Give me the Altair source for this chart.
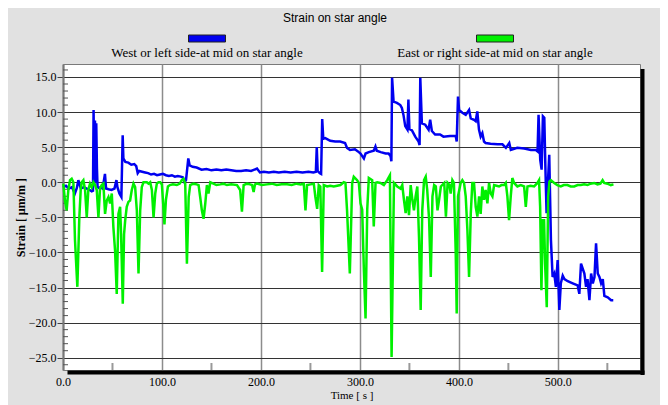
import altair as alt
import pandas as pd

W, H = 577, 306

# ---- data ----
west_t = [0, 3, 6, 9, 12, 14, 15.5, 18, 21, 24, 27, 29, 30.3, 30.9, 31.6, 32.3, 33.0, 33.6, 34.3, 34.9,
          36, 38, 40, 42.4, 43.5, 46, 49, 52, 54, 55, 57, 59, 60.3, 61, 63, 66, 69, 72, 74, 75.5,
          77, 80, 83, 86, 89, 92, 95, 98, 101, 104, 107, 110, 113, 116, 119, 121, 122.8, 124.3, 126.6, 128,
          131, 135, 140, 145, 150, 155, 160, 165, 170, 175, 180, 185, 190, 196, 199, 203, 208, 213, 218, 224,
          230, 236, 242, 248, 253, 255.5, 256.4, 257.3, 259.5, 260.8, 261.9, 263, 265, 270, 275, 280, 285, 287, 290, 295,
          298, 300.6, 304, 305.7, 309, 314, 315.7, 317, 321, 326, 329, 331, 331.8, 332.5, 334, 337.4, 340.8, 342.4, 344, 345.8,
          348, 349, 350, 352.6, 355.9, 359.3, 360.3, 361, 362.6, 366, 369.4, 371, 372.7, 376, 381, 384.4, 391, 396.8, 397.8, 399.1,
          400.2, 403.5, 406.9, 410.3, 412, 415.3, 417, 418.6, 420.3, 422, 423.7, 425.4, 427, 432, 439, 444, 447.5, 450.9, 452.5, 459,
          466, 472.8, 477.8, 479.5, 480.5, 482.2, 483.6, 484.9, 486.3, 487.3, 488.6, 489.6, 491.3, 492, 493, 494.7, 496.4, 498, 499.8, 501.5,
          503, 504.9, 506.6, 510, 515, 520, 521.7, 523.4, 526.8, 528.5, 530, 531.9, 533.6, 535.3, 537, 538.6, 540.3, 542, 543.7, 545.4,
          547, 550.4, 553.8, 556]
west_v = [-0.7, -0.5, -0.9, -0.7, -1.6, -0.8, 0.3, -0.9, -0.7, -0.9, -1.1, -1.3, -1.2, 10.3, -0.3, 8.8, 0.0, 8.4, 2.0, -0.6,
          -0.8, -0.7, -0.9, 1.2, -0.9, -1.0, -1.1, -0.9, 0.3, -0.7, -1.6, -2.1, 6.7, 3.4, 2.9, 2.8, 2.5, 2.6, 2.3, 1.3,
          1.6, 1.5, 1.4, 1.3, 1.1, 1.2, 1.0, 1.1, 1.2, 1.0, 0.9, 1.0, 0.8, 0.9, 0.8, 0.7, 0.0, 0.3, 3.4, 2.4,
          2.2, 2.1, 1.8, 1.9, 1.7, 1.8, 1.7, 1.8, 1.7, 1.6, 1.6, 1.7, 1.6, 1.95, 1.4, 1.5, 1.4, 1.5, 1.4, 1.5,
          1.4, 1.5, 1.4, 1.5, 1.4, 1.5, 5.0, 1.6, 1.3, 1.2, 9.0, 6.2, 6.3, 5.9, 5.8, 5.8, 5.6, 4.9, 4.6, 4.7,
          4.4, 4.1, 3.4, 4.1, 4.3, 4.5, 5.1, 4.5, 4.3, 4.1, 4.1, 3.7, 3.0, 14.9, 11.5, 11.3, 11.0, 10.6, 9.6, 8.0,
          7.5, 11.8, 7.6, 7.4, 6.5, 5.8, 5.3, 14.9, 8.4, 8.2, 7.5, 8.9, 7.3, 6.8, 6.8, 6.5, 6.6, 6.6, 5.8, 12.2,
          10.3, 9.9, 9.6, 10.3, 9.1, 8.9, 8.7, 10.1, 7.5, 6.5, 7.0, 5.8, 5.6, 5.5, 5.4, 5.4, 4.9, 5.6, 4.6, 4.9,
          4.8, 4.6, 4.6, 4.4, 9.6, 3.2, 1.8, 9.4, 9.2, 2.7, -4.4, -1.1, 3.9, -1.1, -8.2, -13.5, -13.0, -14.9, -11.1, -18.2,
          -14.4, -13.3, -13.8, -14.1, -14.4, -14.7, -15.9, -11.6, -13.0, -14.9, -13.8, -16.8, -13.0, -14.4, -13.5, -8.7, -13.0, -13.5, -14.4, -13.8,
          -16.2, -16.4, -16.8, -16.8]

east_t = [0.3, 2.0, 3.7, 5.4, 7.1, 8.8, 10.5, 12.1, 14.5, 16.5, 17.9, 18.9, 20.6, 22.3, 24.0, 25.6, 27.3, 29.0, 30.7, 32.4,
          34.1, 35.8, 37.4, 39.1, 40.8, 42.5, 44.2, 45.9, 47.6, 49.3, 50.9, 52.6, 54.3, 56.0, 57.7, 58.7, 60.4, 61.7, 62.8, 64.4,
          66.1, 67.8, 69.5, 71.2, 72.9, 74.6, 76.3, 78.0, 79.6, 81.3, 84.7, 86.4, 88.1, 89.8, 91.5, 93.2, 94.8, 96.5, 98.2, 99.9,
          101.2, 102.5, 104, 106, 108, 111, 115, 118, 120, 121.8, 123.5, 125.2, 127, 128.5, 131.9, 135, 137, 138.6, 140.3, 142,
          143.7, 145.4, 147, 148.8, 152, 155, 159, 162, 165.6, 170, 175.8, 179, 180.8, 182.5, 186, 189, 191, 192.6, 194, 196,
          201, 206, 211, 216, 221, 226.4, 231, 236, 240, 243.3, 245, 246.6, 250, 253.4, 255, 256.8, 258.4, 260, 261.8, 263.5,
          266.9, 270, 273.6, 277, 280.3, 283.7, 285.4, 287, 289.8, 292.2, 293.8, 297.2, 298.9, 300.6, 302.3, 304, 305.7, 307.4, 309, 312.4,
          314, 315.8, 317.5, 320.8, 324.2, 327.6, 330.3, 332, 334.4, 337.7, 341.1, 342.8, 344.5, 346.2, 347.9, 349.6, 351.3, 353, 354.6, 356.3,
          358, 359.7, 361.4, 363, 364.8, 366.5, 368, 369.9, 371.6, 373.3, 375, 376.7, 378.4, 380, 381.8, 385.2, 386.9, 388.6, 390.5, 391.7,
          393.4, 395, 396.8, 397.8, 399.1, 401.8, 403.5, 405.2, 406.9, 408.6, 410.3, 412, 413.6, 415.3, 417, 418.7, 420.4, 422, 423.7, 425.4,
          427, 428.8, 430.5, 432.2, 433.9, 435.6, 438, 440.6, 443, 445.7, 447.4, 449, 450.7, 452.4, 454, 455.8, 459.1, 462.5, 465.9, 467.6,
          469.3, 472.5, 476, 479.4, 481, 482.1, 483.4, 484.8, 486.1, 487.1, 488.8, 490.2, 491.5, 492.9, 496.3, 499.5, 503, 506, 509.7, 513,
          516.5, 520, 523.2, 526.5, 530, 533, 536.7, 540, 543, 545.2, 546.8, 550, 553.5, 556.2]
east_v = [-0.2, -2.6, -4.0, -1.1, 0.3, 0.5, 0.0, -8.2, -14.9, -5.0, -1.1, 0.0, 0.3, -1.1, -5.0, -1.1, -0.2, -0.7, 0.0, -0.4,
          -1.1, -5.0, -0.9, -0.4, -0.2, -4.5, -2.6, -2.1, -3.0, -1.6, -6.4, -9.7, -15.9, -4.5, -3.5, -7.4, -17.3, -7.4, -5.5, -3.5,
          -2.8, -2.6, -1.1, -0.2, -0.7, -4.0, -13.0, -4.0, -0.7, 0.0, 0.0, -0.2, 0.0, -1.1, -5.0, -1.6, -0.2, 0.0, 0.0, -0.3,
          -3.0, -6.0, -2.5, -0.6, -0.4, -0.3, -0.4, -0.2, 0.3, 0.5, -0.2, -11.6, -2.1, -0.4, -0.2, -0.3, -0.4, -2.1, -4.0, -5.2,
          -3.1, -0.4, -1.6, 0.0, -0.2, -0.4, -0.3, -0.2, -0.4, -0.3, -0.4, -1.1, -4.2, -0.4, -0.2, -0.3, -0.4, -1.4, -0.3, -0.2,
          -0.4, -0.3, -0.2, -0.4, -0.3, -0.3, -0.4, -0.2, -0.3, -0.2, -4.0, -0.4, -0.3, -0.2, -2.1, -3.8, -0.4, -0.6, -12.8, -0.4,
          -0.6, -0.5, -0.6, -0.5, -0.4, 0.0, -0.1, -4.0, -13.0, -0.1, 0.8, 0.3, -0.1, -3.0, -3.9, -12.5, -19.4, -3.9, 0.6, 0.3,
          -6.3, -0.1, 0.0, -0.1, -0.4, 0.3, 1.0, -24.9, -0.1, -0.6, -0.9, -0.4, -2.5, -4.4, -2.0, -4.7, -0.4, -2.5, -4.0, -2.0,
          -0.6, -7.8, -18.2, -4.0, 0.3, 0.8, -1.1, -5.3, -13.5, -2.0, -0.4, -0.6, -4.0, -2.5, -0.6, -0.1, -4.9, -0.1, -0.4, -1.6,
          0.3, -0.1, -10.0, -18.7, -2.0, -0.1, 0.3, -0.1, -2.0, -6.8, -13.5, -4.5, -0.1, -0.1, -3.5, -4.9, -2.0, -4.5, -0.6, -2.5,
          -1.1, -3.0, -0.1, -1.6, -2.0, -0.4, -0.5, -0.6, -0.4, -0.4, -0.1, -2.0, -5.4, -2.0, 0.6, -0.1, -0.6, -0.4, -0.6, -3.5,
          -0.6, -0.5, -0.6, -0.1, 0.3, -3.5, -15.4, -5.4, -5.4, -11.6, -17.8, -2.0, 0.1, 0.3, -0.1, -0.4, -0.6, -0.4, -0.4, -0.6,
          -0.6, -0.4, -0.4, -0.3, -0.4, -0.2, -0.1, -0.3, -0.2, 0.3, -0.1, -0.2, -0.4, -0.3]

x_tick_values = [0, 100, 200, 300, 400, 500]
x_minor_values = [50, 150, 250, 350, 450, 550]
y_tick_values = [-25, -20, -15, -10, -5, 0, 5, 10, 15]
y_minor_values = [-26, -24, -23, -22, -21, -19, -18, -17, -16, -14, -13, -12, -11, -9, -8, -7, -6,
                  -4, -3, -2, -1, 1, 2, 3, 4, 6, 7, 8, 9, 11, 12, 13, 14, 16]

chart_title = ["Strain on star angle"]
legend_labels = ["West or left side-at mid on star angle", "East or right side-at mid on star angle"]
legend_colors = ["#0000f0", "#00f000"]

serif = "Liberation Serif"

west_df = pd.DataFrame({"t": west_t, "v": west_v})
east_df = pd.DataFrame({"t": east_t, "v": east_v})
xminor_df = pd.DataFrame({"t": x_minor_values})
yminor_df = pd.DataFrame({"v": y_minor_values})

x_scale = alt.Scale(domain=[0, 583], nice=False, zero=False)
y_scale = alt.Scale(domain=[-26.75, 16.85], nice=False, zero=False)

x_axis = alt.Axis(values=x_tick_values, format=".1f", grid=True, gridColor="#8c8c8c", gridWidth=1.5,
                  ticks=False, tickSize=0, domain=False, labelFont=serif, labelFontSize=12,
                  labelColor="black", labelPadding=6, labelFlush=False, title="Time [ s ]", titleFont=serif,
                  titleFontSize=11, titleFontWeight="normal", titleColor="black", titlePadding=2)
y_axis = alt.Axis(values=y_tick_values, format=".1f", grid=True, gridColor="#333333", gridWidth=1,
                  ticks=True, tickSize=6, tickColor="#444444", tickWidth=1, domain=True,
                  domainColor="#777777", domainWidth=2, labelFont=serif, labelFontSize=12,
                  labelColor="black", labelPadding=1, labelFlush=False, title="Strain [ µm/m ]", titleFont=serif,
                  titleFontSize=12, titleFontWeight="bold", titleColor="black", titleX=-43,
                  titleY=153, titleAngle=270, titleAlign="center", titleBaseline="middle")

X = alt.X("t:Q", scale=x_scale, axis=x_axis)
Y = alt.Y("v:Q", scale=y_scale, axis=y_axis)

xminor = alt.Chart(xminor_df).mark_rule(color="#999999", strokeWidth=2).encode(
    x=X, y=alt.value(H), y2=alt.value(H - 7))
yminor = alt.Chart(yminor_df).mark_rule(color="#555555", strokeWidth=1).encode(
    y=Y, x=alt.value(0), x2=alt.value(5))

west = alt.Chart(west_df).mark_line(color=legend_colors[0], strokeWidth=2.5).encode(x=X, y=Y)
east = alt.Chart(east_df).mark_line(color=legend_colors[1], strokeWidth=2.5).encode(x=X, y=Y)

one = pd.DataFrame({"a": [0]})
shadow_r = alt.Chart(one).mark_rule(color="black", strokeWidth=4).encode(
    x=alt.value(W + 2.5), y=alt.value(5), y2=alt.value(H + 5))
shadow_b = alt.Chart(one).mark_rule(color="black", strokeWidth=4).encode(
    y=alt.value(H + 2.5), x=alt.value(4.5), x2=alt.value(W + 4.5))

title = alt.Chart(pd.DataFrame({"label": chart_title})).mark_text(
    font="Liberation Sans", fontSize=12, color="black", align="center", baseline="middle").encode(
    x=alt.value(272), y=alt.value(-46), text="label:N")

leg_layers = []
leg_x = [144, 432]
for i in range(2):
    leg_layers.append(alt.Chart(one).mark_rect(color=legend_colors[i], stroke="#222222", strokeWidth=1).encode(
        x=alt.value(leg_x[i] - 18.5), x2=alt.value(leg_x[i] + 18.5), y=alt.value(-29), y2=alt.value(-22)))
    leg_layers.append(alt.Chart(pd.DataFrame({"label": [legend_labels[i]]})).mark_text(
        font=serif, fontSize=13, color="black", align="center", baseline="middle").encode(
        x=alt.value(leg_x[i]), y=alt.value(-11), text="label:N"))

chart = alt.layer(xminor, yminor, west, east, shadow_r, shadow_b, title, *leg_layers).properties(
    width=W, height=H,
    autosize=alt.AutoSizeParams(type="none"),
    padding={"left": 55, "top": 56, "right": 20, "bottom": 35},
).configure(background="#e1e1e1").configure_view(fill="white", stroke="#7a7a7a", strokeWidth=1)

chart.save("out.html", embed_options={"renderer": "svg", "actions": False})
